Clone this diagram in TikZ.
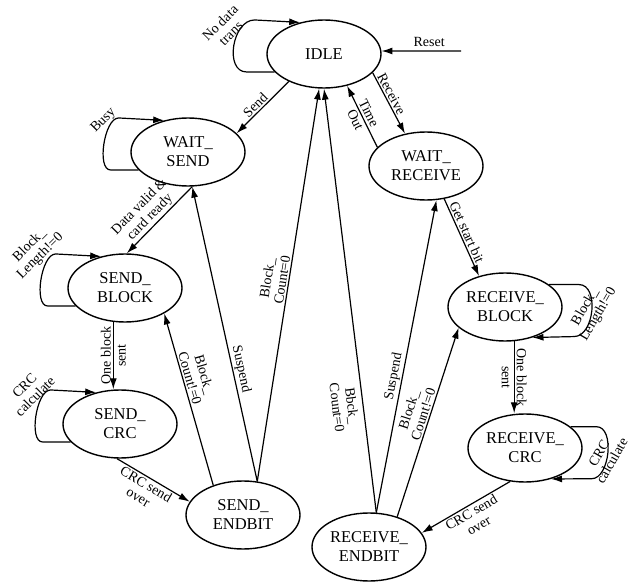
\documentclass[tikz,border=0pt]{standalone}
\usepackage{fontspec}
\setmainfont{Liberation Serif}
\usetikzlibrary{arrows.meta,shapes.geometric}

\begin{document}
\begin{tikzpicture}[x=1pt,y=-1pt,>={Latex[length=11pt,width=7pt]},
    state/.style={ellipse,draw,line width=1.4pt,minimum width=114pt,
      minimum height=68pt,inner sep=0pt,align=center,
      font=\fontsize{16.5}{19}\selectfont},
    lbl/.style={font=\fontsize{14}{15}\selectfont,align=center,inner sep=1.5pt},
    edge/.style={->,line width=1.2pt}]
  \useasboundingbox (0,0) rectangle (630,586);
  \node[state] (idle) at (324,54) {IDLE};
  \node[state] (waitsend) at (188,152) {WAIT\_\\SEND};
  \node[state] (waitrecv) at (426,166) {WAIT\_\\RECEIVE};
  \node[state] (sendblock) at (125,288) {SEND\_\\BLOCK};
  \node[state] (recvblock) at (505,307) {RECEIVE\_\\BLOCK};
  \node[state] (sendcrc) at (120,424) {SEND\_\\CRC};
  \node[state] (recvcrc) at (525,448) {RECEIVE\_\\CRC};
  \node[state] (sendend) at (243,515) {SEND\_\\ENDBIT};
  \node[state] (recvend) at (369,547) {RECEIVE\_\\ENDBIT};
  \coordinate (rst) at (461,51);

  \draw[edge] (rst) -- node[lbl,above=2pt,pos=.4] (lreset) {Reset} (idle.3);
  \draw[edge] (idle.200) -- ++(-28,0) to[out=180,in=180,looseness=1.1]
    node[lbl,pos=.6,anchor=south,rotate=45] (lnodata) {No data\\trans}
    ++(8,-52) -- (idle.127);
  \draw[edge] (waitsend.200) -- ++(-28,0) to[out=180,in=180,looseness=.7]
    node[lbl,pos=.75,anchor=south,rotate=45] (lbusy) {Busy}
    ++(8,-52) -- (waitsend.127);
  \draw[edge] (sendblock.200) -- ++(-28,0) to[out=180,in=180,looseness=.7]
    node[lbl,pos=.75,anchor=south,rotate=45] (lblklen) {Block\_\\Length!=0}
    ++(8,-52) -- (sendblock.127);
  \draw[edge] (sendcrc.200) -- ++(-28,0) to[out=180,in=180,looseness=.7]
    node[lbl,pos=.7,anchor=south,rotate=45] (lcrccalc) {CRC\\calculate}
    ++(8,-52) -- (sendcrc.127);
  \draw[edge] (recvblock.27) -- ++(30,0) to[out=0,in=0,looseness=1]
    node[lbl,pos=.5,rotate=60] (lrblklen) {Block\_\\Length!=0}
    ++(-5,52) -- (recvblock.312);
  \draw[edge] (recvcrc.25) -- ++(26,0) to[out=0,in=0,looseness=.9]
    node[lbl,pos=.5,rotate=60,xshift=-5pt] (lrcrccalc) {CRC\\calculate}
    ++(-5,52) -- (recvcrc.310);

  \draw[edge] (idle.218) -- node[lbl,sloped,above,pos=.55] (lsend) {Send} (waitsend.21);
  \draw[edge] (idle.339) -- node[lbl,sloped,above,pos=.4] (lrecv) {Receive} (waitrecv.123);
  \draw[edge] (waitrecv.159) -- node[lbl,sloped,pos=.5] (ltimeout) {Time\\Out} (idle.306);
  \draw[edge] (waitsend.277) -- node[lbl,sloped,above,pos=.55] (ldata)
    {Data valid \&\\card ready} (sendblock.87);
  \draw[edge] (sendblock.251) -- node[lbl,rotate=90,pos=.5] (lsent)
    {One block\\sent} (sendblock.251 |- sendcrc.north);
  \draw[edge] (sendcrc.265) -- node[lbl,sloped,below,pos=.45] (lcrcover)
    {CRC send\\over} (sendend.166);
  \draw[edge] (sendend.135) -- node[lbl,sloped,above,pos=.61] (lcntne)
    {Block\_\\Count!=0} (sendblock.327);
  \draw[edge] (sendend.67) -- node[lbl,sloped,above,pos=.375] (lsusp) {Suspend} (waitsend.277);
  \draw[edge] (sendend.67) -- node[lbl,sloped,above,pos=.51] (lcnteq)
    {Block\_\\Count=0} (idle.262);
  \draw[edge] (recvend.78) -- node[lbl,sloped,below=4pt,pos=.255] (lbbck)
    {Bbck\_\\Count=0} (idle.270);
  \draw[edge] (recvend.78) -- node[lbl,sloped,above,pos=.43] (lrsusp) {Suspend} (waitrecv.287);
  \draw[edge] (recvend.47) -- node[lbl,sloped,above,pos=.53] (lrcntne)
    {Block\_\\Count!=0} (recvblock.204);
  \draw[edge] (waitrecv.299) -- node[lbl,sloped,above,pos=.47] (lstart)
    {Get start bit} (recvblock.130);
  \draw[edge] (recvblock.285) -- node[lbl,sloped,pos=.5] (lrsent)
    {One block\\sent} (recvblock.285 |- recvcrc.north);
  \draw[edge] (recvcrc.246) -- node[lbl,sloped,below,pos=.48] (lrcrcover)
    {CRC send\\over} (recvend.15);
\end{tikzpicture}
\end{document}
